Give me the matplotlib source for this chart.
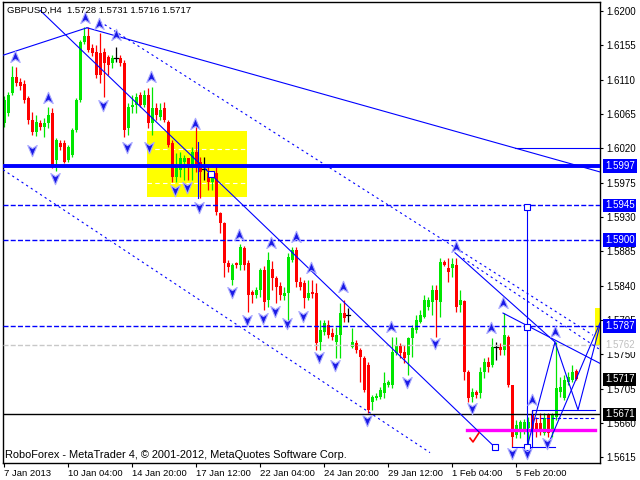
import matplotlib
matplotlib.use("Agg")
import matplotlib.pyplot as plt
from matplotlib.path import Path
from matplotlib.patches import Rectangle

plt.rcParams['font.family'] = ['Liberation Sans', 'DejaVu Sans']

# H4 candles, one per bar index
opens = [1.6053, 1.6066, 1.6093, 1.6113, 1.6107, 1.6104, 1.6086, 1.6057, 1.6041, 1.6053,
         1.6048, 1.6053, 1.6066, 1.6005, 1.6027, 1.6027, 1.6005, 1.6011, 1.6044, 1.6083,
         1.6159, 1.6167, 1.6152, 1.6146, 1.6145, 1.6146, 1.6140, 1.6132, 1.6138, 1.6138,
         1.6132, 1.6047, 1.6074, 1.6077, 1.6090, 1.6077, 1.6090, 1.6053, 1.6073, 1.6061,
         1.6073, 1.6055, 1.6027, 1.5982, 1.5992, 1.6002, 1.6007, 1.5996, 1.6015, 1.6002,
         1.5993, 1.5988, 1.5976, 1.5988, 1.5935, 1.5922, 1.5870, 1.5847, 1.5870, 1.5867,
         1.5889, 1.5870, 1.5832, 1.5828, 1.5834, 1.5860, 1.5821, 1.5862, 1.5850, 1.5840,
         1.5826, 1.5830, 1.5874, 1.5887, 1.5845, 1.5843, 1.5824, 1.5832, 1.5830, 1.5766,
         1.5779, 1.5788, 1.5778, 1.5766, 1.5775, 1.5804, 1.5801, 1.5759, 1.5765, 1.5756,
         1.5745, 1.5736, 1.5687, 1.5693, 1.5694, 1.5699, 1.5710, 1.5710, 1.5752, 1.5761,
         1.5753, 1.5749, 1.5771, 1.5782, 1.5792, 1.5799, 1.5812, 1.5819, 1.5834, 1.5819,
         1.5871, 1.5863, 1.5863, 1.5867, 1.5815, 1.5820, 1.5727, 1.5694, 1.5701, 1.5699,
         1.5727, 1.5740, 1.5736, 1.5759, 1.5759, 1.5756, 1.5773, 1.5710, 1.5644, 1.5648,
         1.5651, 1.5653, 1.5670, 1.5660, 1.5660, 1.5647, 1.5670, 1.5648, 1.5668, 1.5701,
         1.5693, 1.5714, 1.5716, 1.5728]
highs = [1.6089, 1.6094, 1.6128, 1.6127, 1.6112, 1.6110, 1.6089, 1.6068, 1.6064, 1.6057,
         1.6060, 1.6074, 1.6073, 1.6034, 1.6031, 1.6031, 1.6024, 1.6047, 1.6086, 1.6162,
         1.6179, 1.6179, 1.6157, 1.6155, 1.6171, 1.6152, 1.6142, 1.6142, 1.6153, 1.6142,
         1.6136, 1.6079, 1.6090, 1.6093, 1.6094, 1.6096, 1.6099, 1.6100, 1.6079, 1.6079,
         1.6081, 1.6057, 1.6031, 1.6014, 1.6015, 1.6011, 1.6007, 1.6022, 1.6053, 1.6009,
         1.6009, 1.5998, 1.5989, 1.5996, 1.5936, 1.5923, 1.5874, 1.5870, 1.5871, 1.5895,
         1.5892, 1.5874, 1.5834, 1.5838, 1.5863, 1.5866, 1.5884, 1.5872, 1.5853, 1.5845,
         1.5838, 1.5883, 1.5891, 1.5891, 1.5851, 1.5847, 1.5847, 1.5847, 1.5843, 1.5795,
         1.5795, 1.5795, 1.5784, 1.5786, 1.5817, 1.5821, 1.5811, 1.5784, 1.5769, 1.5758,
         1.5748, 1.5740, 1.5697, 1.5699, 1.5707, 1.5727, 1.5716, 1.5773, 1.5773, 1.5765,
         1.5762, 1.5773, 1.5788, 1.5801, 1.5808, 1.5828, 1.5825, 1.5841, 1.5841, 1.5876,
         1.5874, 1.5876, 1.5876, 1.5876, 1.5834, 1.5821, 1.5729, 1.5706, 1.5703, 1.5733,
         1.5745, 1.5746, 1.5771, 1.5766, 1.5765, 1.5804, 1.5775, 1.5710, 1.5664, 1.5664,
         1.5665, 1.5668, 1.5677, 1.5668, 1.5673, 1.5673, 1.5673, 1.5673, 1.5766, 1.5720,
         1.5723, 1.5727, 1.5736, 1.5731]
lows = [1.6048, 1.6062, 1.6090, 1.6102, 1.6096, 1.6079, 1.6052, 1.6037, 1.6036, 1.6044,
        1.6035, 1.6047, 1.5994, 1.5990, 1.6018, 1.6001, 1.6002, 1.6009, 1.6041, 1.6081,
        1.6157, 1.6146, 1.6141, 1.6112, 1.6106, 1.6087, 1.6116, 1.6125, 1.6133, 1.6128,
        1.6035, 1.6037, 1.6066, 1.6066, 1.6074, 1.6074, 1.6047, 1.6037, 1.6057, 1.6057,
        1.6055, 1.6022, 1.5976, 1.5976, 1.5982, 1.5978, 1.5978, 1.5978, 1.5989, 1.5955,
        1.5978, 1.5965, 1.5965, 1.5932, 1.5909, 1.5851, 1.5858, 1.5841, 1.5863, 1.5860,
        1.5860, 1.5805, 1.5817, 1.5824, 1.5825, 1.5808, 1.5812, 1.5834, 1.5817, 1.5821,
        1.5821, 1.5795, 1.5871, 1.5838, 1.5834, 1.5811, 1.5821, 1.5824, 1.5756, 1.5756,
        1.5775, 1.5771, 1.5769, 1.5745, 1.5745, 1.5792, 1.5792, 1.5758, 1.5752, 1.5714,
        1.5701, 1.5673, 1.5677, 1.5690, 1.5691, 1.5693, 1.5707, 1.5706, 1.5749, 1.5745,
        1.5739, 1.5723, 1.5746, 1.5778, 1.5791, 1.5798, 1.5808, 1.5801, 1.5773, 1.5799,
        1.5866, 1.5845, 1.5851, 1.5805, 1.5805, 1.5716, 1.5687, 1.5687, 1.5693, 1.5693,
        1.5719, 1.5727, 1.5733, 1.5742, 1.5749, 1.5749, 1.5707, 1.5628, 1.5640, 1.5640,
        1.5645, 1.5628, 1.5644, 1.5641, 1.5644, 1.5644, 1.5641, 1.5641, 1.5664, 1.5694,
        1.5690, 1.5710, 1.5714, 1.5716]
closes = [1.6083, 1.6090, 1.6113, 1.6106, 1.6102, 1.6083, 1.6057, 1.6041, 1.6055, 1.6048,
          1.6053, 1.6064, 1.5998, 1.6031, 1.6022, 1.6002, 1.6022, 1.6044, 1.6083, 1.6159,
          1.6167, 1.6149, 1.6145, 1.6116, 1.6116, 1.6132, 1.6129, 1.6138, 1.6138, 1.6132,
          1.6044, 1.6074, 1.6077, 1.6087, 1.6077, 1.6090, 1.6053, 1.6073, 1.6064, 1.6070,
          1.6057, 1.6024, 1.5982, 1.5994, 1.6007, 1.6007, 1.5996, 1.6015, 1.5996, 1.5989,
          1.5993, 1.5976, 1.5986, 1.5936, 1.5922, 1.5870, 1.5864, 1.5867, 1.5867, 1.5891,
          1.5867, 1.5828, 1.5828, 1.5834, 1.5860, 1.5819, 1.5874, 1.5850, 1.5838, 1.5828,
          1.5830, 1.5877, 1.5887, 1.5845, 1.5838, 1.5824, 1.5830, 1.5829, 1.5765, 1.5782,
          1.5791, 1.5775, 1.5773, 1.5775, 1.5804, 1.5798, 1.5801, 1.5766, 1.5756, 1.5746,
          1.5703, 1.5677, 1.5694, 1.5695, 1.5703, 1.5712, 1.5714, 1.5753, 1.5762, 1.5752,
          1.5745, 1.5771, 1.5784, 1.5795, 1.5801, 1.5821, 1.5821, 1.5834, 1.5821, 1.5871,
          1.5867, 1.5858, 1.5868, 1.5812, 1.5821, 1.5727, 1.5693, 1.5701, 1.5697, 1.5727,
          1.5740, 1.5733, 1.5759, 1.5759, 1.5756, 1.5775, 1.5710, 1.5641, 1.5657, 1.5661,
          1.5661, 1.5661, 1.5648, 1.5648, 1.5651, 1.5666, 1.5647, 1.5670, 1.5706, 1.5707,
          1.5716, 1.5720, 1.5727, 1.5717]

date_ticks = [0, 16, 32, 48, 64, 80, 96, 112, 128]
date_labels = ['7 Jan 2013', '10 Jan 04:00', '14 Jan 20:00', '17 Jan 12:00', '22 Jan 04:00',
               '24 Jan 20:00', '29 Jan 12:00', '1 Feb 04:00', '5 Feb 20:00']
price_ticks = [1.5615, 1.5660, 1.5705, 1.5750, 1.5795, 1.5840, 1.5885, 1.5930, 1.5975,
               1.6020, 1.6065, 1.6110, 1.6155, 1.6200]

# fractal arrows (bar, price)
up_bar = [2.75, 11, 20.25, 23.75, 28, 36.75, 47.75, 58.75, 66.75, 73, 76.75, 84.75, 96.75,
          113, 121.75, 124.75, 132, 137.75]
up_price = [1.6140, 1.6086, 1.6191, 1.6183, 1.6169, 1.6113, 1.6052, 1.5906, 1.5896, 1.5904,
            1.5863, 1.5838, 1.5786, 1.5891, 1.5784, 1.5817, 1.5690, 1.5779]
dn_bar = [7, 12.75, 24.75, 30.75, 36.25, 42.75, 45.75, 48.75, 57, 60.75, 64.75, 67.75, 70.75,
          74.75, 78.75, 82.75, 90.75, 100.75, 107.75, 117, 127, 130.75, 135.75]
dn_price = [1.6018, 1.5981, 1.6077, 1.6022, 1.6022, 1.5965, 1.5969, 1.5943, 1.5832, 1.5795,
            1.5798, 1.5807, 1.5791, 1.5800, 1.5746, 1.5736, 1.5664, 1.5714, 1.5765, 1.5680,
            1.5621, 1.5621, 1.5634]

# drawn objects
solid_lines = [
    ([-0.25, 20.75], [1.6142, 1.6178]),
    ([20.75, 149], [1.6178, 1.5989]),
    ([127.75, 149], [1.6020, 1.6020]),
    ([9, 122.75], [1.6201, 1.5628]),
    ([112.75, 137.75], [1.5883, 1.5766]),
    ([124.75, 149], [1.5804, 1.5738]),
    ([130.75, 137.75, 143.5, 149], [1.5628, 1.5766, 1.5677, 1.5788]),
    ([135.75, 149], [1.5628, 1.5791]),
    ([127, 137.75], [1.5628, 1.5628]),
    ([132, 132, 147.75], [1.5628, 1.5677, 1.5677]),
    ([130.75, 130.75], [1.5943, 1.5628]),
    ([48.5, 48.5], [1.6028, 1.5955]),
]
dotted_lines = [
    ([24, 147.25], [1.6186, 1.5775]),
    ([-0.25, 106.5], [1.5992, 1.5621]),
    ([114.75, 149], [1.5876, 1.5756]),
]
square_bar = [130.75, 130.75, 130.75, 122.75, 51.75]
square_price = [1.5943, 1.5786, 1.5628, 1.5628, 1.5986]

level_thick = 1.5997
levels_dashed = [1.5945, 1.5900, 1.5787]
level_gray = 1.5762
level_black = 1.5671
magenta_level = 1.5651

price_boxes = [('1.5997', 1.5997, '#0000FF', 'white'), ('1.5945', 1.5945, '#0000FF', 'white'),
               ('1.5900', 1.5900, '#0000FF', 'white'), ('1.5787', 1.5787, '#0000FF', 'white'),
               ('1.5762', 1.5762, 'white', '#C0C0C0'), ('1.5717', 1.5717, 'black', 'white'),
               ('1.5671', 1.5671, 'black', 'white')]

fig = plt.figure(figsize=(6.4, 4.8), dpi=100)
ax = fig.add_axes([3 / 640, 17 / 480, 597 / 640, 461 / 480])
ax.set_xlim(-0.25, 149)
ax.set_ylim(1.56074, 1.62118)

# background objects
ax.add_patch(Rectangle((35.75, 1.5956), 25, 0.0087, facecolor='#FFFF00', edgecolor='none', zorder=1))
for lv in [1.6019, 1.5975]:
    ax.plot([35.75, 60.75], [lv, lv], color='white', lw=0.8, ls=(0, (4, 3)), zorder=1.1)
ax.add_patch(Rectangle((147.75, 1.5762), 1.25, 0.0049, facecolor='#FFFF00', edgecolor='none', zorder=1))

# candles
for i in range(len(opens)):
    o, h, l, c = opens[i], highs[i], lows[i], closes[i]
    if c > o:
        col = '#00E600'
    elif c < o:
        col = '#FF0000'
    else:
        col = 'black'
    ax.plot([i, i], [l, h], color=col, lw=0.9, zorder=2, solid_capstyle='butt')
    if c == o:
        ax.plot([i - 0.4, i + 0.4], [o, o], color=col, lw=0.9, zorder=2)
    else:
        ax.bar(i, c - o, bottom=o, width=0.75, color=col, linewidth=0, zorder=2)

# horizontal levels
ax.axhline(level_thick, color='#0000FF', lw=2.8, zorder=3)
for lv in levels_dashed:
    ax.axhline(lv, color='#0000FF', lw=1.0, ls=(0, (3.6, 1.6)), zorder=3)
ax.axhline(level_gray, color='#C8C8C8', lw=1.0, ls=(0, (3.6, 1.6)), zorder=3)
ax.axhline(level_black, color='black', lw=1.0, zorder=3)
ax.plot([115.75, 147.75], [magenta_level, magenta_level], color='#FF00FF', lw=2.4, zorder=3)
ax.plot([132.75, 147.75], [1.5666, 1.5666], color='#0000FF', lw=0.8, ls=(0, (3, 2)), zorder=3)

for xs, ys in solid_lines:
    ax.plot(xs, ys, color='#0000FF', lw=0.8, zorder=3)
for xs, ys in dotted_lines:
    ax.plot(xs, ys, color='#0000FF', lw=0.8, ls=(0, (2, 3)), zorder=3)
ax.plot(square_bar, square_price, ls='none', marker='s', ms=4, mfc='white', mec='#0000FF', mew=0.8, zorder=4)

# red check mark
ax.plot([116.5, 117.25, 118.75], [1.5640, 1.5635, 1.5647], color='#FF0000', lw=1.2, zorder=4)

# fractal arrows
up_path = Path([(0, 1), (0.75, -0.8), (0, -0.3), (-0.75, -0.8), (0, 1)],
               [Path.MOVETO, Path.LINETO, Path.LINETO, Path.LINETO, Path.CLOSEPOLY])
dn_path = Path([(0, -1), (0.75, 0.8), (0, 0.3), (-0.75, 0.8), (0, -1)],
               [Path.MOVETO, Path.LINETO, Path.LINETO, Path.LINETO, Path.CLOSEPOLY])
ax.plot(up_bar, up_price, ls='none', marker=up_path, ms=9, mfc='#1A1AE6', mec='#A8A8FF', mew=0.8, zorder=5)
ax.plot(dn_bar, dn_price, ls='none', marker=dn_path, ms=9, mfc='#1A1AE6', mec='#A8A8FF', mew=0.8, zorder=5)

# axes styling
for s in ax.spines.values():
    s.set_color('black')
    s.set_linewidth(1.0)
ax.yaxis.tick_right()
ax.set_yticks(price_ticks)
ax.set_yticklabels(['%.4f' % p for p in price_ticks])
ax.tick_params(axis='y', direction='out', length=2.5, width=0.8, pad=2, labelsize=7, colors='black')
ax.set_xticks(date_ticks)
ax.set_xticklabels(date_labels)
ax.tick_params(axis='x', direction='out', length=3, width=0.8, pad=1.5, labelsize=6.8, colors='black')
for t in ax.get_xticklabels():
    t.set_horizontalalignment('left')

for txt, p, fc, tc in price_boxes:
    ax.text(1.0 + 5 / 597, p, txt, transform=ax.get_yaxis_transform(), ha='left', va='center',
            fontsize=7, color=tc, zorder=10, clip_on=False,
            bbox=dict(boxstyle='square,pad=0.18', fc=fc, ec='none'))

ax.text(4 / 597, 1 - 4 / 461, 'GBPUSD,H4  1.5728 1.5731 1.5716 1.5717', transform=ax.transAxes,
        ha='left', va='top', fontsize=6.8, color='black', zorder=10)
ax.text(2 / 597, 3 / 461, 'RoboForex - MetaTrader 4, \u00a9 2001-2012, MetaQuotes Software Corp.',
        transform=ax.transAxes, ha='left', va='bottom', fontsize=7.9, color='black', zorder=10)

fig.savefig('out.png', dpi=100)
